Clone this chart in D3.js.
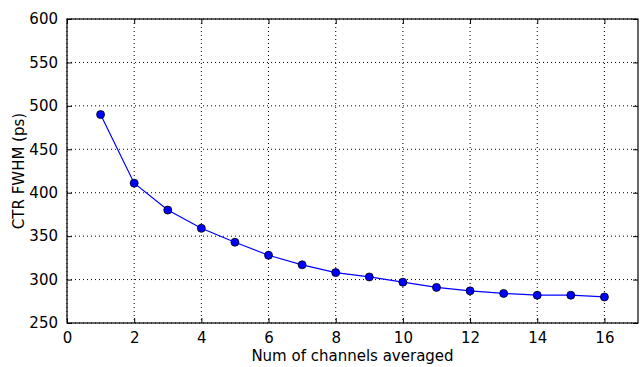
<!DOCTYPE html>
<html>
<head>
<meta charset="utf-8">
<script src="https://cdn.jsdelivr.net/npm/d3@7"></script>
<style>
  body { margin: 0; background: #fff; }
  text { font-family: "DejaVu Sans", sans-serif; fill: #000; }
</style>
</head>
<body>
<div class="chart"></div>
<script>
// data
const channels = [1, 2, 3, 4, 5, 6, 7, 8, 9, 10, 11, 12, 13, 14, 15, 16];
const ctrFwhm = [490, 411, 380, 359, 343, 328, 317, 308, 303, 297, 291, 287, 284, 282, 282, 280];
const xTicks = [0, 2, 4, 6, 8, 10, 12, 14, 16];
const yTicks = [250, 300, 350, 400, 450, 500, 550, 600];

const svgWidth = 642;
const svgHeight = 367;

const chartMargin = { top: 19, right: 4, bottom: 44, left: 67 };

const width = svgWidth - chartMargin.left - chartMargin.right;
const height = svgHeight - chartMargin.top - chartMargin.bottom;

const svg = d3.select(".chart")
    .append("svg")
    .attr("width", svgWidth)
    .attr("height", svgHeight);

const chartGroup = svg.append("g")
    .attr("transform", `translate(${chartMargin.left}, ${chartMargin.top})`);

const x = d3.scaleLinear().domain([0, 17]).range([0, width]);
const y = d3.scaleLinear().domain([250, 600]).range([height, 0]);

// grid
chartGroup.append("g")
    .selectAll("line")
    .data(xTicks)
    .enter()
    .append("line")
    .attr("x1", d => x(d)).attr("x2", d => x(d))
    .attr("y1", 0).attr("y2", height)
    .attr("stroke", "#000")
    .attr("stroke-width", 1)
    .attr("stroke-dasharray", "1,3");

chartGroup.append("g")
    .selectAll("line")
    .data(yTicks)
    .enter()
    .append("line")
    .attr("x1", 0).attr("x2", width)
    .attr("y1", d => y(d)).attr("y2", d => y(d))
    .attr("stroke", "#000")
    .attr("stroke-width", 1)
    .attr("stroke-dasharray", "1,3");

// axes, ticks inside on all sides
const fontSize = "15px";

chartGroup.append("g")
    .attr("transform", `translate(0, ${height})`)
    .call(d3.axisBottom(x).tickValues(xTicks).tickSizeInner(-5).tickSizeOuter(0).tickPadding(9));

chartGroup.append("g")
    .call(d3.axisTop(x).tickValues(xTicks).tickSizeInner(-5).tickSizeOuter(0).tickFormat(""));

chartGroup.append("g")
    .call(d3.axisLeft(y).tickValues(yTicks).tickSizeInner(-5).tickSizeOuter(0).tickPadding(9));

chartGroup.append("g")
    .attr("transform", `translate(${width}, 0)`)
    .call(d3.axisRight(y).tickValues(yTicks).tickSizeInner(-5).tickSizeOuter(0).tickFormat(""));

chartGroup.selectAll(".domain").remove();
chartGroup.selectAll(".tick line").attr("stroke", "#000");
chartGroup.selectAll(".tick text")
    .attr("font-family", "DejaVu Sans")
    .attr("font-size", fontSize)
    .attr("fill", "#000");

// frame
chartGroup.append("rect")
    .attr("width", width)
    .attr("height", height)
    .attr("fill", "none")
    .attr("stroke", "#000")
    .attr("stroke-width", 1.2);

// line + markers
const line = d3.line()
    .x((d, i) => x(channels[i]))
    .y(d => y(d));

chartGroup.append("path")
    .datum(ctrFwhm)
    .attr("d", line)
    .attr("fill", "none")
    .attr("stroke", "#0000ff")
    .attr("stroke-width", 1.2);

chartGroup.selectAll(".pt")
    .data(ctrFwhm)
    .enter()
    .append("circle")
    .attr("class", "pt")
    .attr("cx", (d, i) => x(channels[i]))
    .attr("cy", d => y(d))
    .attr("r", 4)
    .attr("fill", "#0000ff")
    .attr("stroke", "#000")
    .attr("stroke-width", 0.8);

// axis labels
chartGroup.append("text")
    .attr("transform", `translate(${-43}, ${height / 2}) rotate(-90)`)
    .attr("text-anchor", "middle")
    .attr("font-size", fontSize)
    .text("CTR FWHM (ps)");

chartGroup.append("text")
    .attr("x", (250 + 455) / 2 - chartMargin.left)
    .attr("y", height + 38)
    .attr("text-anchor", "middle")
    .attr("font-size", fontSize)
    .text("Num of channels averaged");
</script>
</body>
</html>
